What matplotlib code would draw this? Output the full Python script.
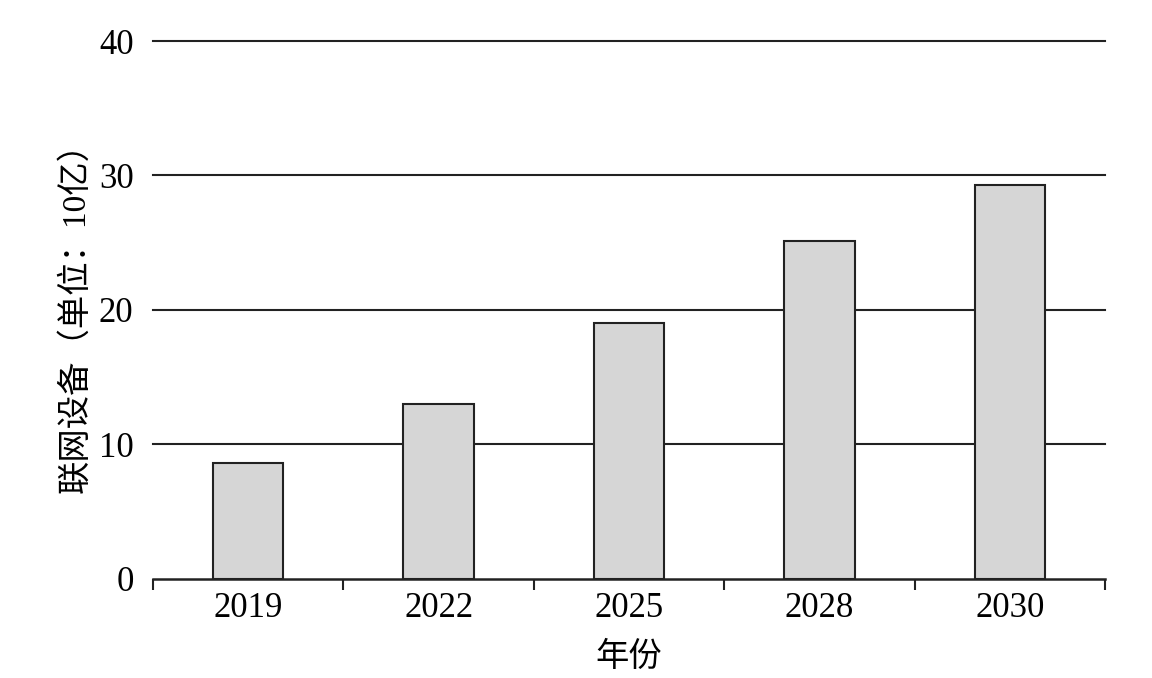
import matplotlib
matplotlib.use('Agg')
import matplotlib.pyplot as plt
import numpy as np

years = ['2019', '2022', '2025', '2028', '2030']
devices = [8.6, 13.0, 19.0, 25.1, 29.3]
yticks = [0, 10, 20, 30, 40]

plt.rcParams['font.family'] = ['Liberation Serif', 'Noto Sans CJK SC']

fig = plt.figure(figsize=(11.52, 6.78), dpi=100)
ax = fig.add_axes([153/1152, 1 - 578.5/678, 952/1152, 537.5/678])

x = np.arange(len(years))
ax.bar(x, devices, width=0.37, color='#d6d6d6', edgecolor='#222222', linewidth=1.5, zorder=3)

ax.set_xlim(-0.5, len(years) - 0.5)
ax.set_ylim(0, 40)
ax.set_yticks(yticks)
ax.set_yticklabels([str(v) for v in yticks], fontsize=25)
ax.tick_params(axis='y', length=0, pad=14)

ax.set_xticks(x)
ax.set_xticklabels(years, fontsize=25)
ax.tick_params(axis='x', which='major', length=0, pad=10)
ax.set_xticks(np.arange(-0.5, len(years)), minor=True)
ax.tick_params(axis='x', which='minor', length=8, width=1.5, color='#222222')

for v in yticks[1:]:
    ax.axhline(v, color='#222222', linewidth=1.5, zorder=1, clip_on=False)

for s in ['left', 'right', 'top']:
    ax.spines[s].set_visible(False)
ax.spines['bottom'].set_linewidth(1.8)
ax.spines['bottom'].set_color('#222222')
ax.spines['bottom'].set_zorder(4)

ax.set_xlabel('年份', fontsize=24, labelpad=12)
ax.set_ylabel('联网设备（单位：10亿）', fontsize=24, labelpad=5)

fig.savefig('out.png', dpi=100)
